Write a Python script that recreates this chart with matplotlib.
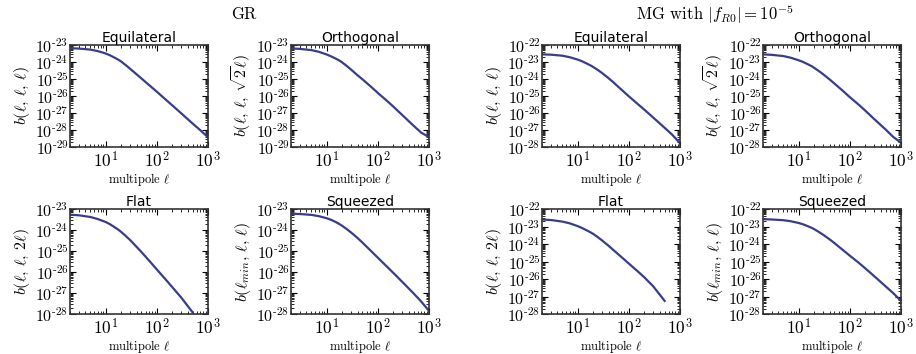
import numpy as np
import matplotlib
matplotlib.use("Agg")
import matplotlib.pyplot as plt
from matplotlib.ticker import LogLocator, NullFormatter, FuncFormatter

plt.rcParams['mathtext.fontset'] = 'cm'

# multipoles
ell = [2, 3, 5, 7, 10, 12, 15, 18, 20, 25, 30, 40, 50, 70, 100, 150, 200, 300, 500, 700, 1000]
ell_flat = [2, 3, 5, 7, 10, 12, 15, 18, 20, 25, 30, 40, 50, 70, 100, 150, 200, 300, 500]

# log10 of the bispectrum
gr_equ = [-23.19, -23.21, -23.27, -23.36, -23.50, -23.60, -23.75, -23.88, -23.97, -24.20, -24.40, -24.72, -24.97, -25.35, -25.75, -26.22, -26.55, -27.02, -27.62, -28.00, -28.43]
gr_ort = [-23.20, -23.23, -23.30, -23.40, -23.56, -23.66, -23.80, -23.93, -24.02, -24.25, -24.45, -24.78, -25.02, -25.40, -25.82, -26.28, -26.62, -27.12, -27.75, -28.15, -28.42]
gr_flat = [-23.27, -23.30, -23.38, -23.48, -23.62, -23.72, -23.87, -24.00, -24.09, -24.30, -24.48, -24.80, -25.05, -25.45, -25.88, -26.37, -26.72, -27.22, -27.92]
gr_sq = [-23.22, -23.24, -23.28, -23.34, -23.44, -23.51, -23.62, -23.73, -23.80, -23.97, -24.12, -24.38, -24.60, -24.95, -25.32, -25.74, -26.04, -26.47, -27.02, -27.40, -27.85]

mg_equ = [-22.55, -22.57, -22.63, -22.72, -22.86, -22.95, -23.09, -23.21, -23.29, -23.48, -23.65, -23.95, -24.20, -24.60, -25.02, -25.48, -25.80, -26.27, -26.87, -27.27, -27.78]
mg_ort = [-22.55, -22.58, -22.65, -22.75, -22.90, -22.99, -23.13, -23.25, -23.34, -23.54, -23.72, -24.02, -24.27, -24.65, -25.07, -25.52, -25.86, -26.36, -26.97, -27.40, -27.75]
mg_flat = [-22.60, -22.63, -22.72, -22.82, -22.98, -23.08, -23.22, -23.34, -23.42, -23.62, -23.80, -24.10, -24.35, -24.72, -25.12, -25.57, -25.90, -26.42, -27.25]
mg_sq = [-22.58, -22.60, -22.64, -22.70, -22.80, -22.87, -22.98, -23.08, -23.15, -23.32, -23.47, -23.73, -23.95, -24.30, -24.67, -25.08, -25.39, -25.84, -26.42, -26.80, -27.25]

titles = ["Equilateral", "Orthogonal", "Flat", "Squeezed"]
ylabels = [r"$b(\ell,\,\ell,\,\ell)$", r"$b(\ell,\,\ell,\,\sqrt{2}\ell)$",
           r"$b(\ell,\,\ell,\,2\ell)$", r"$b(\ell_{min},\,\ell,\,\ell)$"]

gr_data = [(ell, gr_equ), (ell, gr_ort), (ell_flat, gr_flat), (ell, gr_sq)]
mg_data = [(ell, mg_equ), (ell, mg_ort), (ell_flat, mg_flat), (ell, mg_sq)]
gr_ylim = [(-29, -23), (-29, -23), (-28, -23), (-28, -23)]
mg_ylim = [(-28, -22)] * 4


def pow_label(v, pos):
    k = int(round(np.log10(v)))
    if k < 0:
        return r"$10^{\text{-}%d}$" % (-k)
    return r"$10^{%d}$" % k


W, H = 916, 354
fig = plt.figure(figsize=(W / 100, H / 100), dpi=100)

col_left = [[70, 291], [542, 763]]
row_top = [(45, 147), (209, 314)]
col_w = 138
color = '#383d8a'

for g, (data, ylims) in enumerate([(gr_data, gr_ylim), (mg_data, mg_ylim)]):
    for i in range(4):
        r, c = divmod(i, 2)
        x0 = col_left[g][c]
        top, bot = row_top[r]
        ax = fig.add_axes([x0 / W, 1 - bot / H, col_w / W, (bot - top) / H])
        x, y = data[i]
        ax.loglog(x, 10 ** np.array(y), color=color, lw=1.6)
        ax.set_xlim(2, 1000)
        lo, hi = ylims[i]
        ax.set_ylim(10.0 ** lo, 10.0 ** hi)
        ax.set_yticks([10.0 ** k for k in range(lo, hi + 1)])
        ax.yaxis.set_major_formatter(FuncFormatter(pow_label))
        ax.yaxis.set_minor_locator(LogLocator(base=10, subs=np.arange(2, 10), numticks=20))
        ax.yaxis.set_minor_formatter(NullFormatter())
        ax.set_xticks([10, 100, 1000])
        ax.xaxis.set_major_formatter(FuncFormatter(pow_label))
        ax.tick_params(which='both', direction='in', top=True, right=True)
        ax.tick_params(axis='y', labelsize=11.5, pad=1)
        ax.tick_params(axis='x', labelsize=12.5, pad=3)
        ax.tick_params(which='major', length=4)
        ax.tick_params(which='minor', length=2)
        ax.set_title(titles[i], fontsize=10, pad=1)
        ax.set_ylabel(ylabels[i], fontsize=11.5, labelpad=2)
        ax.set_xlabel(r"multipole $\ell$", fontsize=9, family='cmr10', labelpad=0)
        for s in ax.spines.values():
            s.set_linewidth(1.2)
            s.set_color('#333333')

fig.text(244 / W, 1 - 14 / H, "GR", ha='center', va='center', fontsize=12, family='cmr10')
fig.text(715 / W, 1 - 14 / H, r"MG with $|f_{R0}|=10^{-5}$", ha='center', va='center', fontsize=12, family='cmr10')

fig.savefig("out.png", dpi=100)
